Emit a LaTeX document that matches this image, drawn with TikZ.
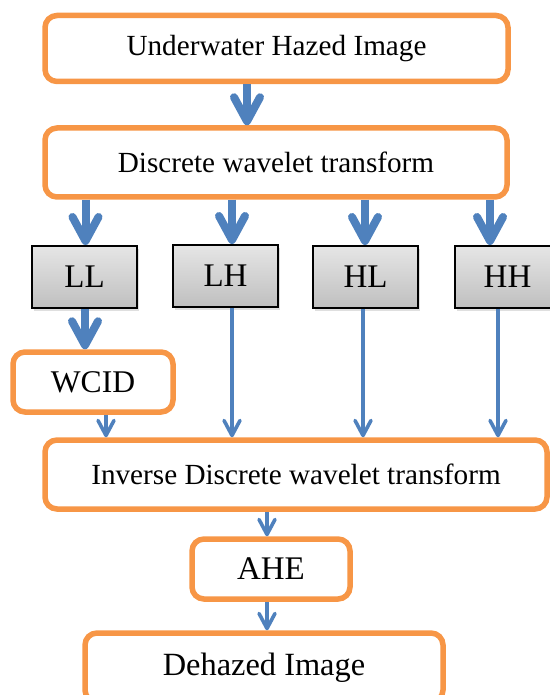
\documentclass[tikz,border=0pt]{standalone}
\usepackage{fontspec}
\setmainfont{Liberation Serif}
\usetikzlibrary{arrows.meta,shadows}
\definecolor{boxorange}{HTML}{F79646}
\definecolor{arrblue}{HTML}{4F81BD}
\tikzset{
  procbox/.style={draw=boxorange, line width=2.75pt, rounded corners=6pt, fill=white,
    inner sep=0pt, font=\fontsize{14.6}{17}\selectfont},
  bandbox/.style={draw=black, line width=1pt, top color=gray!20, bottom color=gray!50,
    minimum width=52.5pt, minimum height=31pt, inner sep=0pt,
    drop shadow={shadow xshift=1pt, shadow yshift=-1.5pt, opacity=0.25},
    font=\fontsize{16.5}{19}\selectfont},
  bigarr/.style={draw=arrblue, line width=4pt, -{Straight Barb[length=12pt,width=13pt,round]}},
  thinarr/.style={draw=arrblue, line width=1.8pt, -{Straight Barb[length=7.5pt,width=8pt,round]}},
}
\begin{document}
\begin{tikzpicture}[x=0.5pt,y=-0.5pt]
  \useasboundingbox (0,0) rectangle (550,695);
  \node[procbox, minimum width=231.5pt, minimum height=33pt] (input) at (276.5,48.5) {Underwater Hazed Image};
  \node[procbox, minimum width=231pt, minimum height=34.5pt] (dwt) at (276,162.5) {Discrete wavelet transform};
  \node[bandbox] (ll) at (84.5,277) {LL};
  \node[bandbox] (lh) at (225.5,276) {LH};
  \node[bandbox] (hl) at (365.5,277) {HL};
  \node[bandbox] (hh) at (507.5,277) {HH};
  \node[procbox, minimum width=80pt, minimum height=30pt, font=\fontsize{15.8}{18}\selectfont] (wcid) at (93,382) {WCID};
  \node[procbox, minimum width=251pt, minimum height=34.5pt] (idwt) at (296,474.5) {Inverse Discrete wavelet transform};
  \node[procbox, minimum width=79pt, minimum height=30pt, font=\fontsize{16.5}{19}\selectfont] (ahe) at (271,569) {AHE};
  \node[procbox, minimum width=179pt, minimum height=34.5pt, font=\fontsize{16.2}{19}\selectfont] (out) at (264,667.5) {Dehazed Image};

  \draw[bigarr] (input.south -| 247,0) -- (dwt.north -| 247,0);
  \draw[bigarr] (dwt.south -| 85.5,0) -- (ll.north -| 85.5,0);
  \draw[bigarr] (dwt.south -| 232,0) -- (lh.north -| 232,0);
  \draw[bigarr] (dwt.south -| 365,0) -- (hl.north -| 365,0);
  \draw[bigarr] (dwt.south -| 490,0) -- (hh.north -| 490,0);
  \draw[bigarr] (ll.south -| 85,0) -- (wcid.north -| 85,0);
  \draw[thinarr] (wcid.south -| 106,0) -- (idwt.north -| 106,0);
  \draw[thinarr] (lh.south -| 232,0) -- (idwt.north -| 232,0);
  \draw[thinarr] (hl.south -| 363,0) -- (idwt.north -| 363,0);
  \draw[thinarr] (hh.south -| 498,0) -- (idwt.north -| 498,0);
  \draw[thinarr] (idwt.south -| 267,0) -- (ahe.north -| 267,0);
  \draw[thinarr] (ahe.south -| 267,0) -- (out.north -| 267,0);
\end{tikzpicture}
\end{document}
